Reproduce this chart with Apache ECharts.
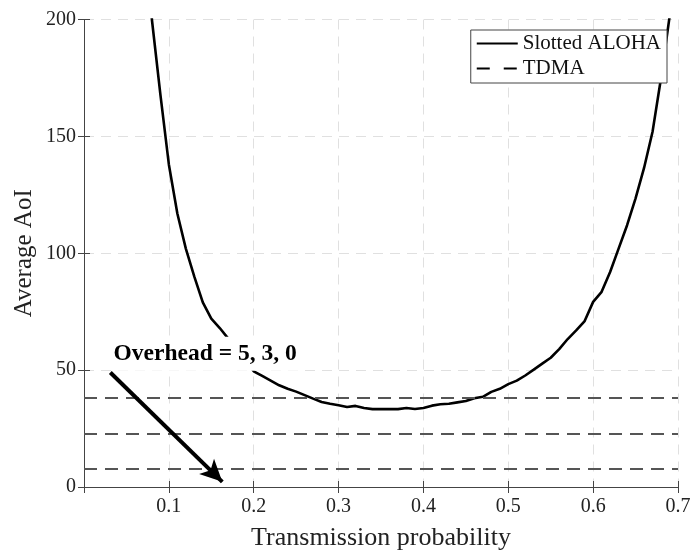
<!DOCTYPE html>
<html>
<head>
<meta charset="utf-8">
<script src="https://cdn.jsdelivr.net/npm/echarts@6/dist/echarts.min.js"></script>
<style>html,body{margin:0;padding:0;background:#fff}#c{width:693px;height:553px}</style>
</head>
<body>
<div id="c"></div>
<script>
const probs = [0.07,0.08,0.09,0.10,0.11,0.12,0.13,0.14,0.15,0.16,0.17,0.18,0.19,0.20,0.21,0.22,0.23,0.24,0.25,0.26,0.27,0.28,0.29,0.30,0.31,0.32,0.33,0.34,0.35,0.36,0.37,0.38,0.39,0.40,0.41,0.42,0.43,0.44,0.45,0.46,0.47,0.48,0.49,0.50,0.51,0.52,0.53,0.54,0.55,0.56,0.57,0.58,0.59,0.60,0.61,0.62,0.63,0.64,0.65,0.66,0.67,0.68,0.69,0.70];
const alohaAoI = [260,200,168,138,117,102,90,79,72,68,63.5,59,54,49.5,47.5,45.5,43.5,42,40.8,39.3,37.8,36.4,35.6,35,34.2,34.7,33.8,33.3,33.3,33.3,33.3,33.8,33.4,33.8,34.8,35.4,35.6,36.2,36.8,38,38.6,40.7,42,44,45.5,47.7,50.2,52.8,55.3,59,63.3,67,71,79.2,83.5,92,102,112,123.5,136.5,152,175,201,240];
const tdmaAoI = [38.3, 22.9, 7.6];
const annotationText = 'Overhead = 5, 3, 0';
const annotationPos = [0.0325, 57];
const arrowStart = [0.031, 49];
const arrowEnd = [0.163, 2.2];
const xTicks = [0.1,0.2,0.3,0.4,0.5,0.6,0.7];
const yTicks = [0,50,100,150,200];

const FONT = 'Liberation Serif';
const chart = echarts.init(document.getElementById('c'), null, {renderer:'canvas'});
const axisCommon = {
  axisLine:{show:true,lineStyle:{color:'#444',width:1}},
  axisTick:{show:true,inside:true,length:6,lineStyle:{color:'#444'}},
};
chart.setOption({
  animation:false,
  backgroundColor:'#fff',
  grid:{left:84,right:15,top:19.5,bottom:66,containLabel:false,outerBoundsMode:'none'},
  legend:{
    data:['Slotted ALOHA','TDMA'],
    orient:'vertical',
    right:26, top:30,
    backgroundColor:'#fff',
    borderColor:'#444', borderWidth:1,
    padding:[3,6,4,5],
    itemGap:4,
    itemWidth:41, itemHeight:18,
    itemStyle:{color:'rgba(0,0,0,0)',borderWidth:0,opacity:0},
    textStyle:{fontFamily:FONT,fontSize:21,color:'#111'}
  },
  xAxis:[
    Object.assign({type:'value',min:0,max:0.7,interval:0.1,position:'bottom',
      name:'Transmission probability',nameLocation:'middle',nameGap:38,
      nameTextStyle:{fontFamily:FONT,fontSize:26,color:'#222'},
      axisLabel:{fontFamily:FONT,fontSize:20,color:'#222',margin:10,
        formatter:v=>{const t=xTicks.find(x=>Math.abs(x-v)<1e-9);return t===undefined?'':t.toFixed(1);}},
      splitLine:{show:true,lineStyle:{color:'#e0e0e0',type:[10,7],width:1}}},axisCommon),
    Object.assign({type:'value',min:0,max:0.7,interval:0.1,position:'top',
      axisLabel:{show:false},splitLine:{show:false}},axisCommon)
  ],
  yAxis:[
    Object.assign({type:'value',min:0,max:200,interval:50,position:'left',
      name:'Average AoI',nameLocation:'middle',nameGap:47,nameMoveOverlap:false,
      nameTextStyle:{fontFamily:FONT,fontSize:25,color:'#222'},
      axisLabel:{fontFamily:FONT,fontSize:20,color:'#222',margin:8,
        formatter:v=>yTicks.includes(v)?String(v):''},
      splitLine:{show:true,lineStyle:{color:'#e0e0e0',type:[10,7],width:1}}},axisCommon),
    Object.assign({type:'value',min:0,max:200,interval:50,position:'right',
      axisLabel:{show:false},splitLine:{show:false}},axisCommon)
  ],
  series:[
    {
      name:'Slotted ALOHA',type:'line',
      data:probs.map((p,i)=>[p,alohaAoI[i]]),
      symbol:'none',clip:true,smooth:false,
      lineStyle:{color:'#000',width:2.6},
      itemStyle:{color:'#000'},
      z:3
    },
    {
      name:'TDMA',type:'line',data:[],
      symbol:'none',
      lineStyle:{color:'#000',width:2.6,type:[13,14]},
      itemStyle:{color:'#000'},
      markLine:{
        silent:true,symbol:['none','none'],
        label:{show:false},
        lineStyle:{color:'#555',width:2,type:[13,8]},
        data:tdmaAoI.map(v=>({yAxis:v}))
      },
      z:2
    },
    {
      name:'annot',type:'line',data:[],symbol:'none',
      markLine:{
        silent:true,symbol:['none','arrow'],symbolSize:[16,22],
        label:{show:false},
        lineStyle:{color:'#000',width:4,type:'solid'},
        data:[[{coord:arrowStart},{coord:arrowEnd}]]
      },
      markPoint:{
        silent:true,symbol:'rect',symbolSize:0,
        label:{show:true,position:'right',distance:0,formatter:annotationText,
          fontFamily:FONT,fontWeight:'bold',fontSize:23.5,color:'#000',
          backgroundColor:'#fff',padding:[5,2,5,2]},
        data:[{coord:annotationPos}]
      },
      z:5
    }
  ]
});
</script>
</body>
</html>
